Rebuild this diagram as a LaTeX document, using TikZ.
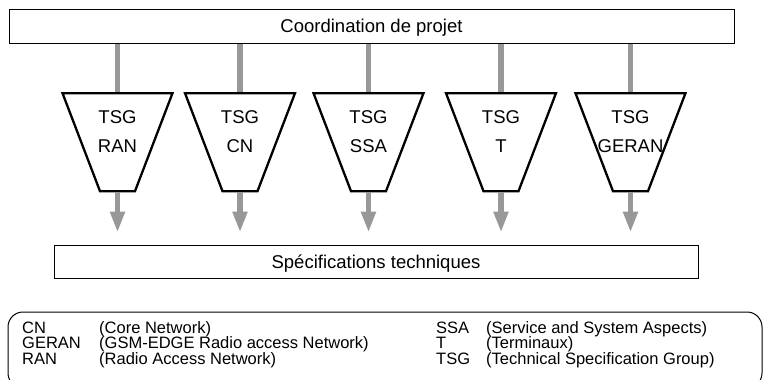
\documentclass[tikz,border=0pt]{standalone}
\usepackage{fontspec}
\setmainfont{Liberation Sans}
\usetikzlibrary{shapes.geometric,arrows.meta,calc}
\definecolor{linegray}{RGB}{152,152,152}
\begin{document}
\begin{tikzpicture}[x=1pt,y=-1pt,
  box/.style={draw,line width=1pt,inner sep=0pt,font=\fontsize{18.5}{22}\selectfont,text height=13.3pt,text depth=0pt},
  tsgbox/.style={draw,line width=2.3pt,line join=miter,trapezium,trapezium stretches=true,trapezium angle=75,shape border rotate=180,minimum width=110pt,minimum height=98pt,inner sep=2pt},
  tsgtext/.style={anchor=base,inner sep=0pt,font=\fontsize{18.5}{22}\selectfont},
  flow/.style={draw=linegray,line width=5.5pt},
  flowarrow/.style={flow,-{Triangle[length=21pt,width=14pt]}},
  legtext/.style={anchor=base west,inner sep=0pt,font=\fontsize{16.5}{18}\selectfont}]
\useasboundingbox (0,0) rectangle (764,380);

\node[box,minimum width=725pt,minimum height=34pt] (coord) at (371.5,26) {Coordination de projet};
\node[box,minimum width=644pt,minimum height=33pt] (spec) at (376,261.5) {Spécifications techniques\hspace{14pt}};

\foreach \n/\x/\lab in {1/117.5/RAN,2/240/CN,3/368.5/SSA,4/501/T,5/630.5/GERAN}{
  \node[tsgbox] (t\n) at (\x,142.2) {\strut};
  \node[tsgtext] (ta\n) at (\x,123) {TSG};
  \node[tsgtext] (tb\n) at (\x,152) {\lab};
  \draw[flow] (t\n.north |- coord.south) -- (t\n.north);
  \draw[flowarrow] (t\n.south) -- ($(t\n.south |- spec.north)+(0,-12)$);
}

\begin{scope}
  \clip (0,0) rectangle (764,380);
  \node[draw,line width=1pt,rounded corners=15pt,minimum width=754pt,minimum height=76pt,inner sep=0pt] (legend) at (385,350) {};
\end{scope}

\node[legtext] (la1) at (22,333) {CN};
\node[legtext] (lb1) at (99,333) {(Core Network)};
\node[legtext] (la2) at (22,348.5) {GERAN};
\node[legtext] (lb2) at (99,348.5) {(GSM-EDGE Radio access Network)};
\node[legtext] (la3) at (22,364) {RAN};
\node[legtext] (lb3) at (99,364) {(Radio Access Network)};
\node[legtext] (lc1) at (436,333) {SSA};
\node[legtext] (ld1) at (486,333) {(Service and System Aspects)};
\node[legtext] (lc2) at (436,348.5) {T};
\node[legtext] (ld2) at (486,348.5) {(Terminaux)};
\node[legtext] (lc3) at (436,364) {TSG};
\node[legtext] (ld3) at (486,364) {(Technical Specification Group)};
\end{tikzpicture}
\end{document}
